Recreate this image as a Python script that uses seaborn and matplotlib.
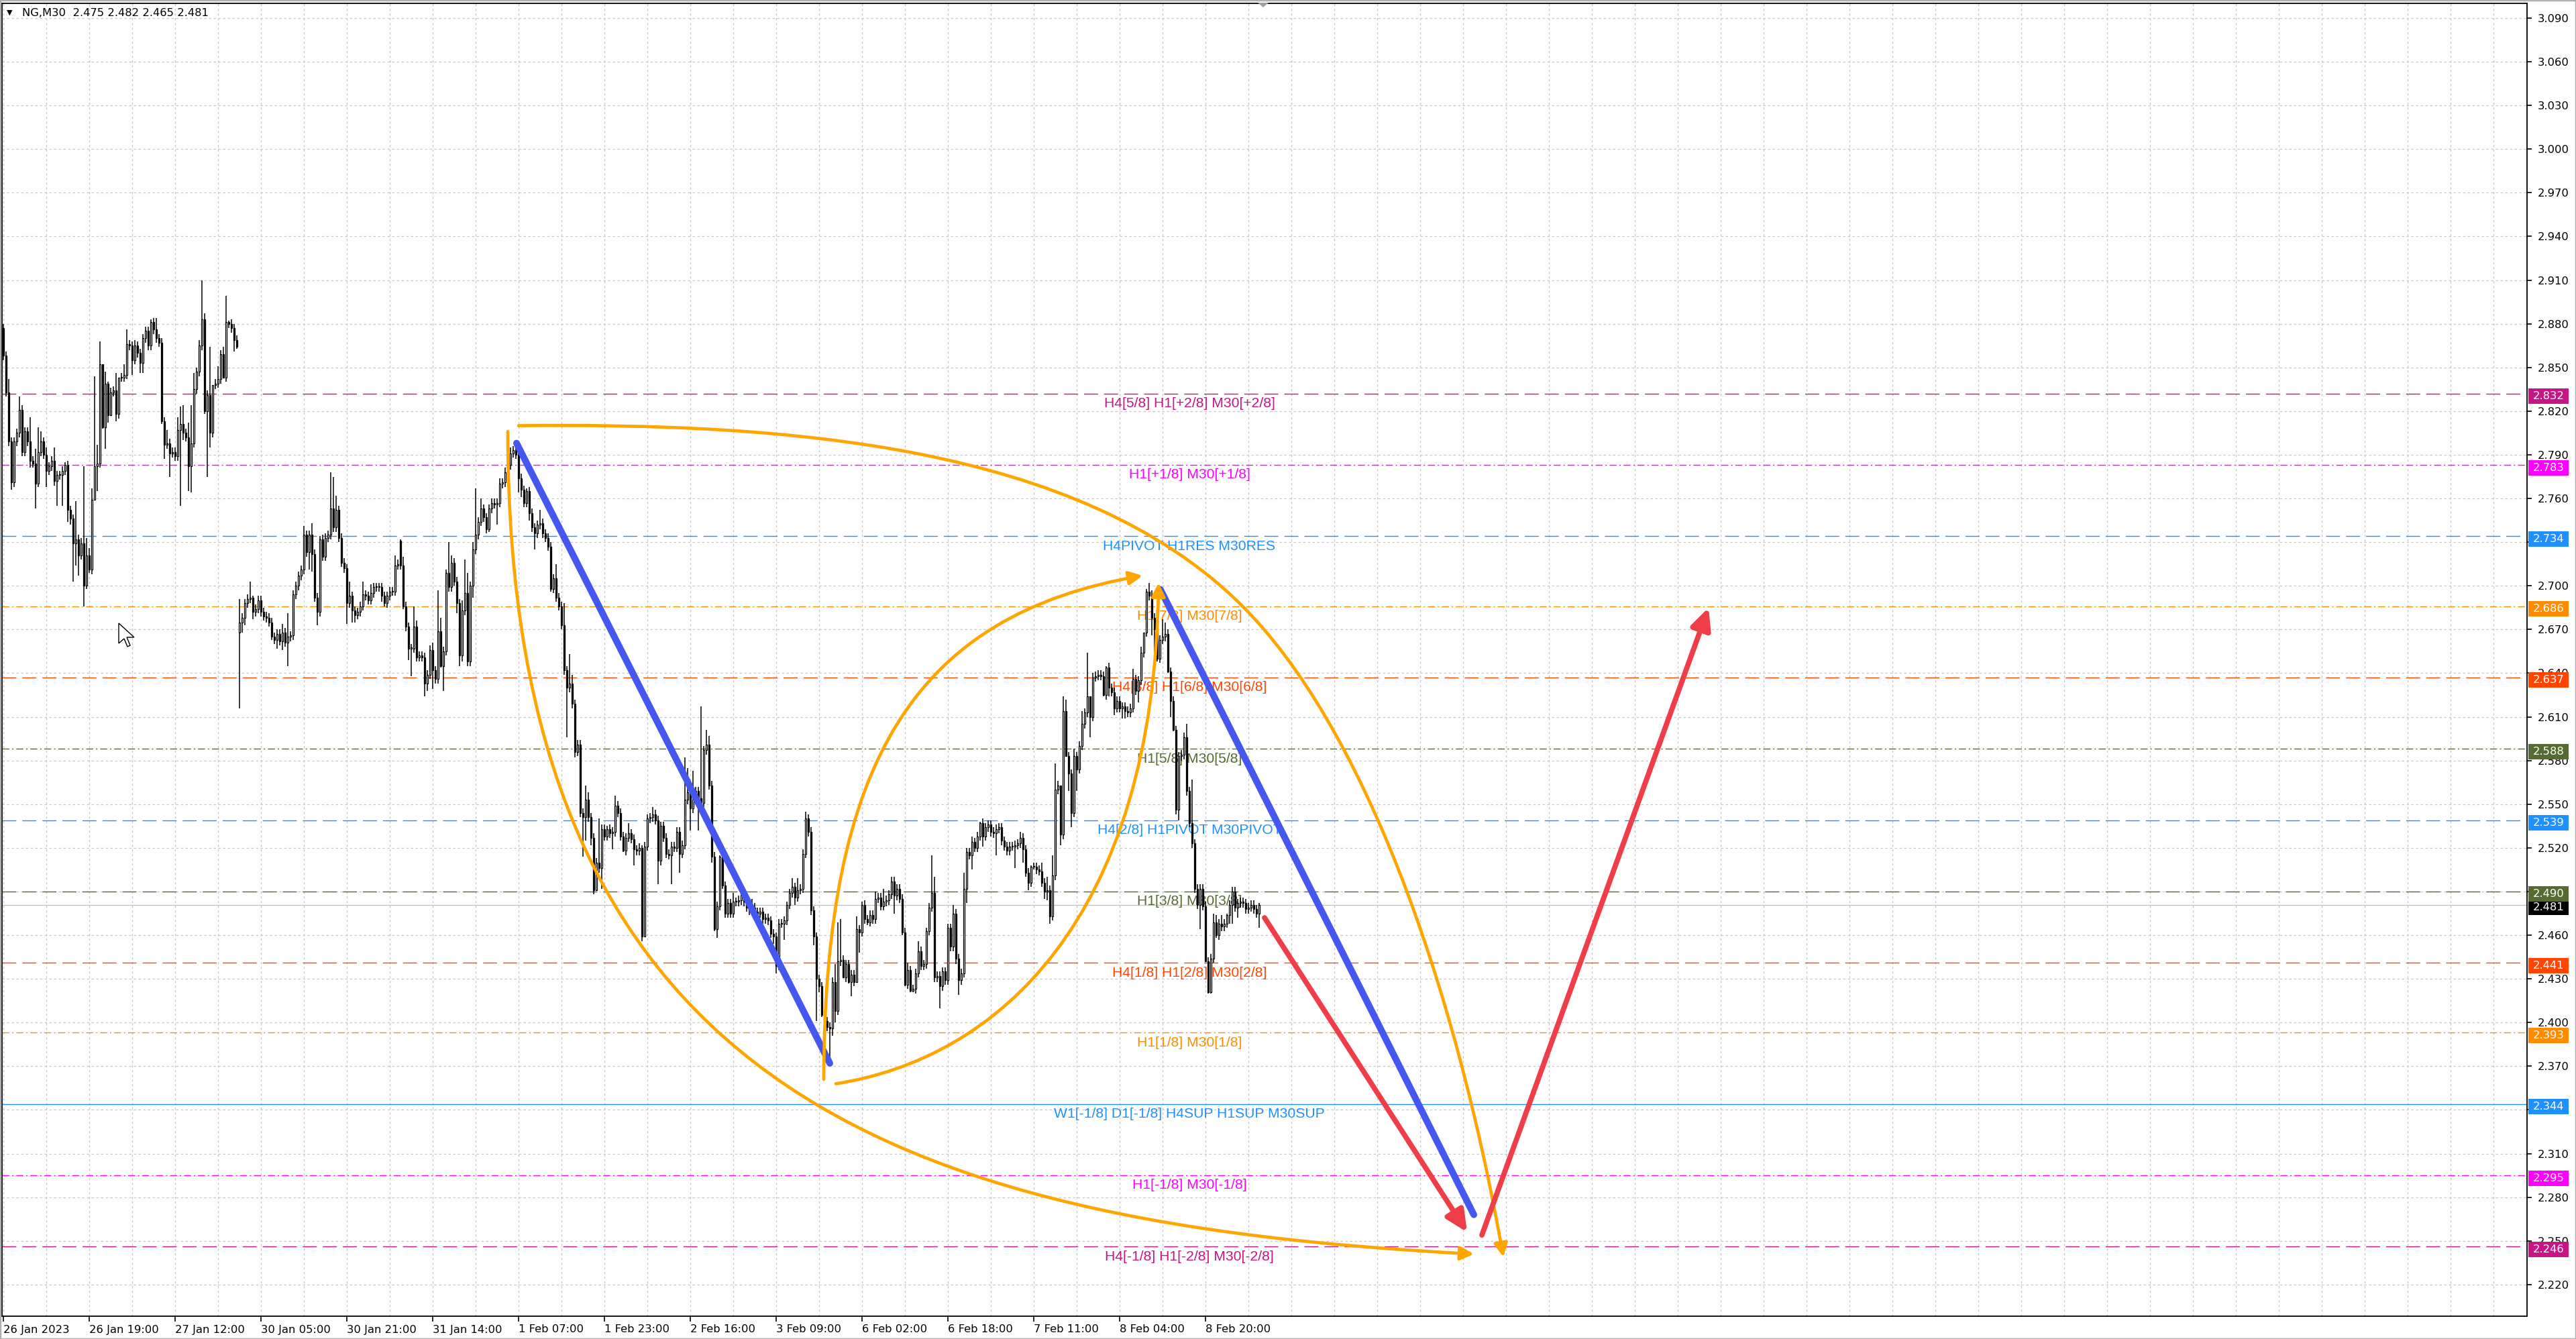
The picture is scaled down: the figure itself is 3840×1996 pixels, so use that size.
"""
NG,M30 chart: candles, Murrey-style levels and hand-drawn arrows, redrawn with seaborn/matplotlib.
"""
import numpy as np
import pandas as pd
import matplotlib
matplotlib.use("Agg")
import matplotlib.pyplot as plt
import matplotlib.transforms as mtransforms
from matplotlib.path import Path
from matplotlib.patches import FancyArrowPatch, Rectangle, Polygon
import seaborn as sns

# ---------------------------------------------------------------- data
HEADER = "NG,M30  2.475 2.482 2.465 2.481"

# closes per M30 bar, in thousandths
CLOSE = [
    2858, 2833, 2799, 2771, 2799, 2805, 2821, 2792, 2806, 2799, 2786, 2784, 2770, 2792, 2799, 2790,
    2779, 2782, 2786, 2772, 2776, 2776, 2779, 2783, 2752, 2746, 2729, 2732, 2721, 2729, 2700, 2721,
    2711, 2759, 2782, 2784, 2852, 2809, 2839, 2817, 2833, 2834, 2818, 2843, 2843, 2845, 2866, 2865,
    2855, 2865, 2860, 2853, 2870, 2875, 2865, 2881, 2876, 2870, 2867, 2813, 2797, 2798, 2791, 2792,
    2789, 2807, 2811, 2805, 2802, 2782, 2798, 2835, 2847, 2865, 2883, 2820, 2831, 2805, 2838, 2839,
    2842, 2859, 2843, 2881, 2880, 2877, 2869, 2864, 2675, 2678, 2688, 2691, 2692, 2682, 2684, 2690,
    2682, 2679, 2678, 2675, 2665, 2663, 2667, 2662, 2668, 2661, 2665, 2666, 2694, 2700, 2707, 2711,
    2735, 2723, 2735, 2722, 2692, 2682, 2732, 2720, 2733, 2735, 2753, 2740, 2752, 2733, 2716, 2712,
    2688, 2693, 2683, 2680, 2682, 2686, 2694, 2693, 2690, 2695, 2699, 2699, 2699, 2693, 2688, 2693,
    2696, 2696, 2714, 2715, 2714, 2686, 2672, 2657, 2657, 2672, 2651, 2652, 2651, 2633, 2639, 2656,
    2642, 2636, 2669, 2645, 2655, 2709, 2699, 2716, 2703, 2688, 2652, 2683, 2695, 2648, 2700, 2725,
    2735, 2744, 2753, 2747, 2739, 2753, 2757, 2756, 2757, 2770, 2771, 2778, 2783, 2791, 2793, 2790,
    2774, 2766, 2757, 2765, 2750, 2740, 2736, 2742, 2743, 2736, 2733, 2727, 2698, 2705, 2692, 2686,
    2673, 2642, 2630, 2633, 2619, 2586, 2591, 2544, 2541, 2553, 2541, 2527, 2491, 2510, 2506, 2533,
    2528, 2533, 2530, 2531, 2549, 2544, 2528, 2518, 2527, 2530, 2526, 2519, 2518, 2520, 2459, 2521,
    2540, 2541, 2543, 2539, 2511, 2535, 2527, 2516, 2515, 2521, 2520, 2531, 2516, 2522, 2553, 2558,
    2547, 2553, 2559, 2554, 2551, 2587, 2591, 2563, 2514, 2464, 2480, 2514, 2494, 2475, 2482, 2475,
    2483, 2483, 2484, 2487, 2483, 2479, 2477, 2479, 2476, 2475, 2476, 2471, 2472, 2470, 2461, 2459,
    2439, 2468, 2468, 2470, 2481, 2489, 2493, 2486, 2491, 2492, 2516, 2540, 2531, 2477, 2459, 2430,
    2425, 2405, 2401, 2397, 2396, 2428, 2408, 2442, 2443, 2431, 2440, 2428, 2433, 2428, 2464, 2462,
    2481, 2471, 2469, 2474, 2471, 2485, 2486, 2480, 2483, 2484, 2488, 2497, 2487, 2492, 2485, 2462,
    2426, 2436, 2422, 2423, 2434, 2449, 2439, 2440, 2463, 2479, 2489, 2431, 2432, 2425, 2435, 2429,
    2465, 2452, 2475, 2444, 2429, 2434, 2492, 2517, 2515, 2524, 2520, 2528, 2537, 2528, 2534, 2536,
    2531, 2530, 2533, 2534, 2525, 2521, 2518, 2521, 2521, 2522, 2523, 2527, 2519, 2503, 2496, 2507,
    2507, 2505, 2504, 2496, 2490, 2491, 2473, 2501, 2560, 2563, 2529, 2614, 2583, 2571, 2544, 2583,
    2574, 2590, 2605, 2613, 2624, 2610, 2637, 2638, 2639, 2638, 2625, 2644, 2630, 2627, 2616, 2621,
    2616, 2617, 2614, 2613, 2616, 2636, 2628, 2635, 2654, 2668, 2696, 2693, 2678, 2670, 2650, 2663,
    2665, 2667, 2641, 2621, 2601, 2546, 2583, 2584, 2596, 2559, 2537, 2523, 2492, 2481, 2492, 2480,
    2442, 2421, 2444, 2469, 2460, 2468, 2466, 2468, 2474, 2481, 2490, 2479, 2482, 2483, 2482, 2478,
    2479, 2481, 2478, 2475, 2481,
]
# opens that do not follow the previous close (session gaps)
OPEN_GAPS = {0: 2877, 88: 2668, 148: 2731, 468: 2475}

# wick lengths above / below the body (thousandths); others use DEFAULT_WICK
DEFAULT_WICK = 3
UP_WICK = {
    2: 9, 6: 9, 10: 17, 12: 10, 13: 17, 14: 7, 16: 5, 19: 9, 23: 2, 27: 26, 29: 4, 30: 53,
    31: 12, 32: 5, 33: 8, 34: 62, 35: 13, 36: 16, 37: 0, 38: 8, 39: 1, 42: 12, 43: 0, 45: 7,
    46: 10, 49: 4, 55: 2, 57: 8, 61: 9, 65: 9, 66: 12, 67: 13, 69: 10, 70: 26, 71: 11, 73: 4,
    74: 27, 75: 4, 77: 33, 78: 0, 80: 9, 82: 5, 83: 18, 84: 1, 88: 16, 92: 11, 93: 1, 104: 6,
    106: 16, 112: 6, 115: 8, 118: 2, 122: 25, 123: 22, 124: 10, 129: 10, 134: 9, 137: 6,
    146: 7, 148: 1, 149: 6, 153: 14, 154: 4, 160: 5, 162: 28, 163: 9, 165: 2, 166: 21, 167: 5,
    171: 7, 172: 23, 173: 14, 175: 5, 176: 32, 178: 7, 185: 4, 189: 4, 191: 2, 195: 2, 200: 9,
    206: 10, 209: 15, 211: 20, 212: 6, 217: 10, 218: 5, 222: 30, 225: 2, 228: 7, 233: 7,
    238: 2, 242: 5, 254: 29, 255: 17, 257: 20, 260: 63, 262: 10, 263: 6, 267: 1, 272: 6,
    275: 6, 279: 6, 292: 2, 294: 6, 296: 8, 299: 5, 310: 12, 311: 27, 312: 28, 318: 9, 320: 2,
    325: 5, 328: 9, 337: 5, 341: 7, 344: 2, 346: 26, 347: 11, 354: 6, 358: 11, 361: 4, 364: 1,
    379: 4, 383: 1, 387: 6, 389: 9, 391: 14, 392: 18, 394: 0, 395: 10, 396: 8, 399: 5, 402: 9,
    404: 30, 405: 0, 411: 1, 421: 7, 424: 4, 425: 0, 426: 2, 427: 6, 428: 4, 430: 10, 432: 12,
    433: 8, 441: 9, 443: 30, 451: 6, 452: 5, 454: 6, 456: 1, 466: 3, 468: 1,
}
DN_WICK = {
    3: 5, 10: 5, 12: 17, 13: 2, 16: 11, 20: 17, 22: 21, 24: 8, 25: 4, 26: 26, 27: 15, 28: 14,
    30: 14, 31: 2, 32: 2, 34: 0, 35: 17, 37: 1, 38: 15, 39: 5, 40: 0, 42: 5, 48: 10, 51: 7,
    52: 7, 59: 2, 60: 10, 62: 16, 66: 52, 67: 5, 69: 17, 70: 18, 75: 2, 76: 45, 77: 10, 82: 0,
    86: 8, 87: 1, 88: 52, 89: 7, 90: 5, 93: 5, 100: 2, 102: 6, 104: 6, 106: 16, 114: 12,
    115: 12, 117: 9, 128: 14, 130: 8, 131: 5, 141: 4, 142: 2, 149: 2, 151: 8, 152: 19, 157: 9,
    158: 5, 160: 13, 163: 1, 164: 17, 169: 7, 170: 7, 171: 4, 175: 8, 181: 2, 184: 14,
    192: 10, 193: 5, 196: 5, 198: 11, 204: 2, 210: 34, 213: 4, 216: 27, 217: 16, 219: 5,
    221: 0, 223: 14, 227: 11, 231: 1, 235: 11, 239: 0, 244: 16, 249: 20, 252: 13, 256: 15,
    259: 22, 264: 4, 265: 1, 266: 6, 268: 2, 287: 5, 288: 5, 291: 11, 295: 5, 302: 6,
    303: 29, 304: 4, 305: 1, 306: 6, 308: 21, 309: 5, 310: 8, 313: 0, 315: 1, 316: 10,
    318: 0, 319: 14, 322: 2, 332: 12, 335: 2, 336: 1, 338: 1, 339: 1, 349: 15, 355: 4,
    356: 10, 359: 10, 361: 10, 365: 7, 370: 15, 377: 15, 380: 9, 382: 5, 384: 2, 388: 5,
    389: 6, 390: 5, 394: 7, 396: 0, 397: 12, 398: 10, 400: 15, 405: 14, 410: 1, 412: 6,
    414: 5, 417: 7, 418: 5, 423: 8, 428: 12, 429: 22, 430: 2, 434: 1, 435: 11, 436: 1,
    437: 3, 438: 7, 446: 17, 448: 0, 449: 1, 450: 1, 452: 2, 457: 6, 458: 13, 460: 7, 468: 10,
}

TIME_LABELS = ["26 Jan 2023", "26 Jan 19:00", "27 Jan 12:00", "30 Jan 05:00", "30 Jan 21:00",
               "31 Jan 14:00", "1 Feb 07:00", "1 Feb 23:00", "2 Feb 16:00", "3 Feb 09:00",
               "6 Feb 02:00", "6 Feb 18:00", "7 Feb 11:00", "8 Feb 04:00", "8 Feb 20:00"]
TIME_LABEL_BARS = [0, 32, 64, 96, 128, 160, 192, 224, 256, 288, 320, 352, 384, 416, 448]

LEVEL_PRICES = [2.832, 2.783, 2.734, 2.686, 2.637, 2.588, 2.539, 2.490, 2.441, 2.393, 2.344, 2.295, 2.246]
LEVEL_NAMES = ["H4[5/8] H1[+2/8] M30[+2/8]", "H1[+1/8] M30[+1/8]", "H4PIVOT H1RES M30RES",
               "H1[7/8] M30[7/8]", "H4[3/8] H1[6/8] M30[6/8]", "H1[5/8] M30[5/8]",
               "H4[2/8] H1PIVOT M30PIVOT", "H1[3/8] M30[3/8]", "H4[1/8] H1[2/8] M30[2/8]",
               "H1[1/8] M30[1/8]", "W1[-1/8] D1[-1/8] H4SUP H1SUP M30SUP", "H1[-1/8] M30[-1/8]",
               "H4[-1/8] H1[-2/8] M30[-2/8]"]
LEVEL_COLORS = ["#C71585", "#FF00FF", "#1E90FF", "#FF8C00", "#FF4500", "#556B2F", "#1E90FF",
                "#556B2F", "#FF4500", "#FF8C00", "#1E90FF", "#FF00FF", "#C71585"]
LEVEL_STYLES = ["dash", "dashdot", "dash", "dashdot", "dash", "dashdot", "dash",
                "dash", "dash", "dashdot", "solid", "dashdot", "dash"]
LAST_PRICE = 2.481

# hand drawn trend lines: (bar, price) end points
TREND_BARS = [191.25, 308.0, 431.2, 548.0]
TREND_PRICES = [2.798, 2.372, 2.6975, 2.268]
TREND_IDS = ["down1", "down1", "down2", "down2"]

# red projection arrows
RED_ARROWS = [((470.0, 2.472), (545.5, 2.256)), ((551.0, 2.254), (635.5, 2.685))]

# orange curved arrows: bezier control points (bar, price)
CURVE_TOP = [(192.0, 2.810), (292.0, 2.812), (401.0, 2.797), (461.25, 2.687),
             (506.25, 2.605), (540.5, 2.431), (559.0, 2.239)]
CURVE_LEFT = [(188.0, 2.806), (188.0, 2.360), (330.0, 2.262), (548.0, 2.241)]
CURVE_INNER_A = [(305.75, 2.361), (306.0, 2.580), (340.0, 2.680), (424.5, 2.707)]
CURVE_INNER_B = [(310.25, 2.358), (370.0, 2.375), (429.0, 2.470), (430.5, 2.702)]

Y_TICKS = np.round(np.arange(2.220, 3.0901, 0.030), 3)

BLUE = "#4457EE"
RED = "#EF3E48"
ORANGE = "#FFA500"


def build_candles():
    n = len(CLOSE)
    close = np.array(CLOSE, dtype=float) / 1000
    open_ = np.empty(n)
    open_[1:] = close[:-1]
    for i, v in OPEN_GAPS.items():
        open_[i] = v / 1000
    up = np.array([UP_WICK.get(i, DEFAULT_WICK) for i in range(n)]) / 1000
    dn = np.array([DN_WICK.get(i, DEFAULT_WICK) for i in range(n)]) / 1000
    top = np.maximum(open_, close)
    bot = np.minimum(open_, close)
    return pd.DataFrame({"bar": np.arange(n), "open": open_, "close": close,
                         "high": top + up, "low": bot - dn})


def bezier_path(points):
    codes = [Path.MOVETO] + [Path.CURVE4] * (len(points) - 1)
    return Path(points, codes)


def main():
    sns.set_theme(style="white")
    plt.rcParams["font.family"] = ["DejaVu Sans"]

    W, H = 3840, 1996
    left, right, top, bottom = 3, 3767, 5, 1962
    fig = plt.figure(figsize=(W / 100, H / 100), dpi=100, facecolor="white")
    ax = fig.add_axes([left / W, (H - bottom) / H, (right - left) / W, (bottom - top) / H])
    ax.set_facecolor("white")

    candles = build_candles()

    # grid
    for x in range(0, 941, 16):
        ax.axvline(x, color="#C8C8C8", lw=0.9, ls=(0, (2.8, 2.8)), zorder=0.5)
    for y in Y_TICKS:
        ax.axhline(y, color="#C8C8C8", lw=0.9, ls=(0, (2.8, 2.8)), zorder=0.5)

    # level lines and their labels
    dash_map = {"dash": (0, (15, 6.5)), "dashdot": (0, (7.5, 3, 1.5, 3)), "solid": "-"}
    for price, name, col, st in zip(LEVEL_PRICES, LEVEL_NAMES, LEVEL_COLORS, LEVEL_STYLES):
        ax.axhline(price, color=col, lw=1.0, ls=dash_map[st], zorder=1.6)
        ax.text(442, price - 0.0024, name, color=col, ha="center", va="top",
                fontsize=15.2, family=["Liberation Sans", "DejaVu Sans"], zorder=1.8)
    ax.axhline(LAST_PRICE, color="#BDBDBD", lw=0.9, zorder=1.6)

    # candles
    o, c = candles["open"].values, candles["close"].values
    ax.vlines(candles["bar"], candles["low"], candles["high"], color="black", lw=1.1, zorder=3)
    body_bot = np.minimum(o, c)
    body_h = np.maximum(np.abs(c - o), 0.0005)
    body_col = np.where(c >= o, "white", "black")
    ax.bar(candles["bar"], body_h, bottom=body_bot, width=0.62, color=body_col,
           edgecolor="black", linewidth=0.9, zorder=3.1)

    # blue trend lines
    trend = pd.DataFrame({"bar": TREND_BARS, "price": TREND_PRICES, "line": TREND_IDS})
    sns.lineplot(data=trend, x="bar", y="price", units="line", estimator=None, sort=False,
                 color=BLUE, lw=7.2, solid_capstyle="round", ax=ax, zorder=4)

    # orange curved arrows
    for pts in (CURVE_TOP, CURVE_LEFT, CURVE_INNER_A, CURVE_INNER_B):
        arr = FancyArrowPatch(path=bezier_path(pts),
                              arrowstyle="-|>,head_length=0.75,head_width=0.38",
                              mutation_scale=16, color=ORANGE, lw=3.4, zorder=4.2,
                              capstyle="round", joinstyle="round")
        ax.add_patch(arr)

    # red arrows
    for a, b in RED_ARROWS:
        arr = FancyArrowPatch(a, b, arrowstyle="-|>,head_length=0.95,head_width=0.45",
                              mutation_scale=20, color=RED, lw=5.6, shrinkA=0, shrinkB=0,
                              zorder=4.4, capstyle="round")
        ax.add_patch(arr)

    ax.set_xlim(-0.5, 940.5)
    ax.set_ylim(2.1983, 3.1001)
    ax.set_xlabel("")
    ax.set_ylabel("")

    # axes frame and ticks
    for sp in ax.spines.values():
        sp.set_color("black")
        sp.set_linewidth(1.3)
    ax.yaxis.tick_right()
    ax.set_yticks(Y_TICKS)
    ax.set_yticklabels([f"{v:.3f}" for v in Y_TICKS])
    ax.tick_params(axis="y", right=True, left=False, direction="out", length=5, width=1.2,
                   pad=6, labelsize=11.8, colors="black")
    ax.set_xticks(TIME_LABEL_BARS)
    ax.set_xticklabels(TIME_LABELS, ha="left")
    ax.tick_params(axis="x", bottom=True, direction="out", length=6, width=1.2, pad=3,
                   labelsize=11.8, colors="black")

    # price boxes on the right scale
    trans = mtransforms.blended_transform_factory(ax.transAxes, ax.transData)
    box_w = 60 / (right - left)
    box_h = 23 / 2170
    x0 = 1 + 2 / (right - left)
    boxes = [(LAST_PRICE, "black")] + list(zip(LEVEL_PRICES, LEVEL_COLORS))
    for price, col in boxes:
        yc = price - 4 / 2170
        ax.add_patch(Rectangle((x0, yc - box_h / 2), box_w, box_h, transform=trans,
                               facecolor=col, edgecolor="none", clip_on=False, zorder=5))
        ax.text(x0 + box_w / 2, yc, f"{price:.3f}", transform=trans, ha="center",
                va="center", color="white", fontsize=11.8, clip_on=False, zorder=6)

    # header
    fig.text(10 / W, 1 - 19 / H, "\u25BC", fontsize=8, va="center", ha="left", color="black")
    fig.text(33 / W, 1 - 19 / H, HEADER, fontsize=11.8, va="center", ha="left", color="black")

    # screen cursor and chart shift marker
    ident = mtransforms.IdentityTransform()
    tip_x, tip_y = 177, H - 929
    cursor = [(0, 0), (0, 30), (8, 23), (13, 35), (17, 33), (12, 21), (23, 21)]
    fig.patches.append(Polygon([(tip_x + dx, tip_y - dy) for dx, dy in cursor], closed=True,
                               facecolor="white", edgecolor="black", lw=1.0, transform=ident))
    fig.patches.append(Polygon([(1875, H - 4), (1891, H - 4), (1883, H - 11)], closed=True,
                               facecolor="#A0A0A0", edgecolor="none", transform=ident))
    fig.patches.append(Rectangle((0, 0), 1, 1, transform=fig.transFigure, fill=False,
                                 edgecolor="#B0B0B0", lw=2.5))

    fig.savefig("out.png", dpi=100, facecolor="white")
    plt.close(fig)


if __name__ == "__main__":
    main()
